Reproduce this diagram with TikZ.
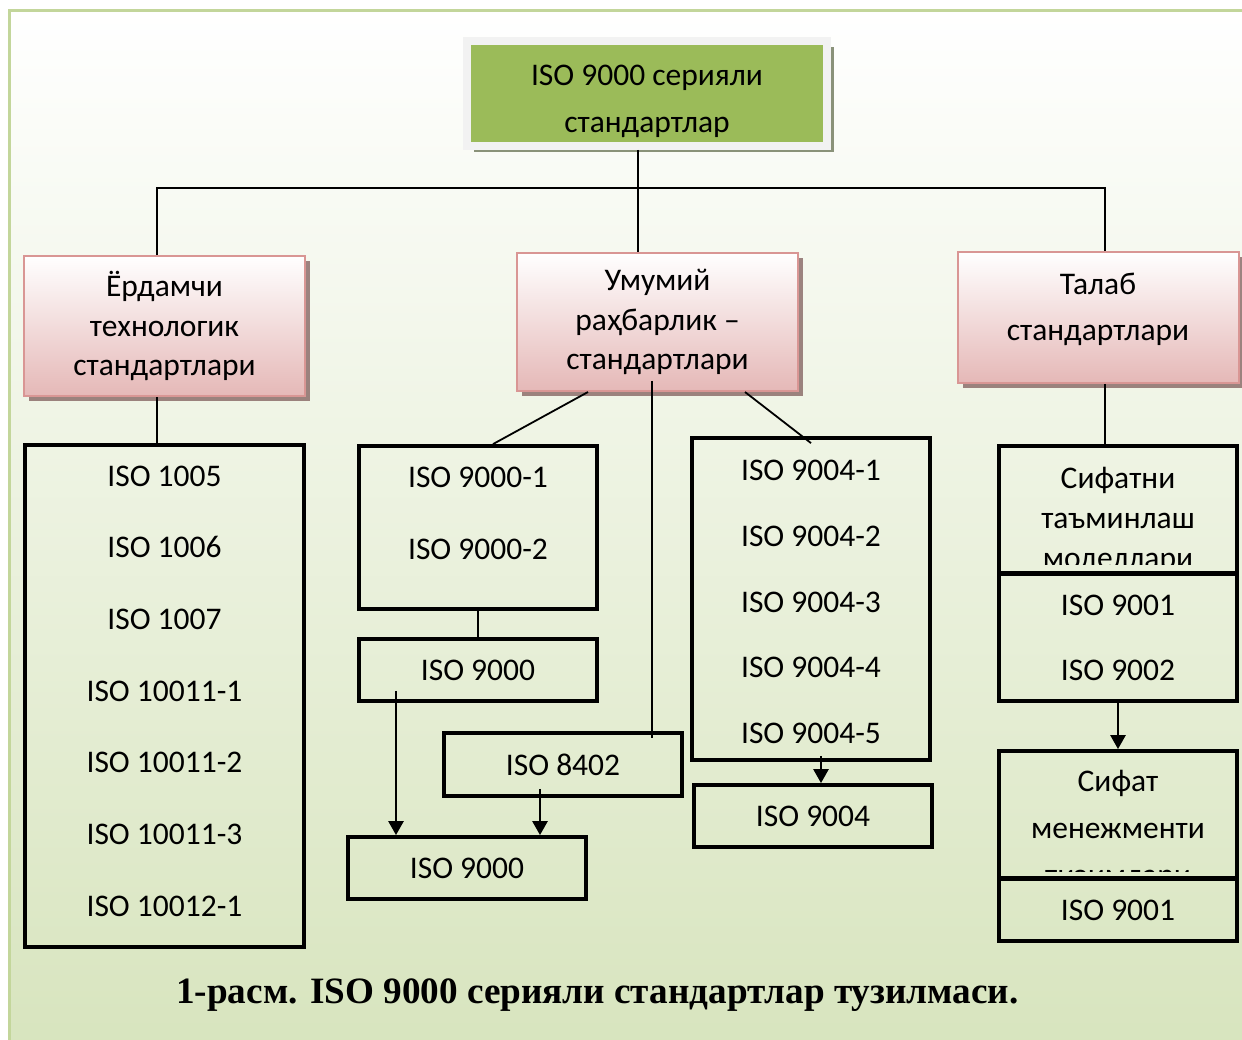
\documentclass[tikz,border=0pt]{standalone}
\usepackage{fontspec}
\setmainfont{Carlito}
\newfontfamily\capfont{Liberation Serif}
\usetikzlibrary{arrows.meta,shadows}
\definecolor{bggreen}{RGB}{215,228,189}
\definecolor{bgedge}{RGB}{195,214,155}
\definecolor{topgreen}{RGB}{155,187,89}
\definecolor{pinkedge}{RGB}{217,150,148}
\definecolor{pinkfill}{RGB}{229,184,183}

\begin{document}
\begin{tikzpicture}[
    x=1pt, y=-1pt,
    boxfont/.style={font=\fontsize{31.5}{#1}\selectfont},
    txt/.style={align=center, inner sep=0pt},
    isobox/.style={rectangle, draw=black, line width=3.8pt, minimum width=238pt, align=center, inner sep=0pt},
    groupbox/.style={rectangle, draw=pinkedge, line width=2pt, top color=white, bottom color=pinkfill, minimum width=281pt, align=center, inner sep=0pt, drop shadow={shadow xshift=5pt, shadow yshift=-5pt, fill=black!45!pinkedge, opacity=0.7}},
    link/.style={line width=1.8pt},
    arrow/.style={-{Triangle[length=14pt,width=15pt]}, line width=2.6pt}
]
\useasboundingbox (0,0) rectangle (1242,1040);

% Background
\begin{scope}
\clip (0,0) rectangle (1242,1040);
\shadedraw[top color=white, bottom color=bggreen, draw=bgedge, line width=2.7pt] (9.7,10.3) rectangle (1262,1062);
\end{scope}

% Top
\node[rectangle, draw=black!5, line width=8pt, fill=topgreen, minimum width=360pt, minimum height=105pt, drop shadow={shadow xshift=6.5pt, shadow yshift=-6.5pt, fill=black!40!topgreen!50!gray, opacity=0.8}] (series) at (647,93.5) {};
\begin{scope}
\clip ([xshift=4pt,yshift=5pt]series.south west) rectangle ([xshift=-4pt,yshift=-4pt]series.north east);
\node[txt, boxfont=47pt] (seriestxt) at (647,101.5) {ISO 9000 серияли\\стандартлар};
\end{scope}

% Groups
\node[groupbox, minimum height=140pt, boxfont=39.5pt] (aux) at (164.5,326) {Ёрдамчи\\технологик\\стандартлари};
\node[groupbox, minimum height=138pt, boxfont=39.5pt] (general) at (657.5,322) {Умумий\\раҳбарлик –\\стандартлари};
\node[groupbox, minimum height=131pt] (req) at (1098.5,317.5) {};
\node[txt, boxfont=46pt] (reqtxt) at (1098,309) {Талаб\\стандартлари};

% Lists
\node[isobox, minimum width=279.5pt, minimum height=502pt] (auxlist) at (164.5,696) {};
\node[txt, boxfont=71.7pt] (auxlisttxt) at (164.5,691) {ISO 1005\\ISO 1006\\ISO 1007\\ISO 10011-1\\ISO 10011-2\\ISO 10011-3\\ISO 10012-1};

\node[isobox, minimum height=163pt] (gen1) at (478,527.5) {};
\node[txt, boxfont=72pt] (gen1txt) at (478,513) {ISO 9000-1\\ISO 9000-2};
\node[isobox, minimum height=62pt, boxfont=40pt] (gen2) at (478,670) {ISO 9000};
\node[isobox, minimum height=63pt, boxfont=40pt] (vocab) at (563,764.5) {ISO 8402};
\node[isobox, minimum height=62pt, boxfont=40pt] (gen3) at (467,868) {ISO 9000};

\node[isobox, minimum height=322pt] (guide) at (811,599) {};
\node[txt, boxfont=65.7pt] (guidetxt) at (811,602) {ISO 9004-1\\ISO 9004-2\\ISO 9004-3\\ISO 9004-4\\ISO 9004-5};
\node[isobox, minimum height=62pt, boxfont=40pt] (guide2) at (813,816) {ISO 9004};

\node[isobox, minimum height=127pt] (assure) at (1118,509.5) {};
\node[isobox, minimum height=127.5pt, boxfont=65pt] (assurelist) at (1118,637.5) {ISO 9001\\ISO 9002};
\node[isobox, minimum height=127pt] (manage) at (1118,814.5) {};
\node[isobox, minimum height=62pt, boxfont=40pt] (managelist) at (1118,910) {ISO 9001};

\begin{scope}
\clip ([xshift=2pt,yshift=10pt]assure.south west) rectangle ([xshift=-2pt,yshift=-2pt]assure.north east);
\node[txt, boxfont=40pt] (assuretxt) at (1118,520) {Сифатни\\таъминлаш\\моделлари};
\end{scope}
\begin{scope}
\clip ([yshift=8pt]manage.south west) rectangle (manage.north east);
\node[txt, boxfont=47pt] (managetxt) at (1118,830) {Сифат\\менежменти\\тизимлари};
\end{scope}

% Connections
\coordinate (busl) at (157,188);
\coordinate (busm) at (638,188);
\coordinate (busr) at (1105,188);
\draw[link] (busm |- series.south) -- (busm |- general.north);
\draw[link] (busl |- aux.north) -- (busl) -- (busr) -- (busr |- req.north);
\draw[link] (busl |- aux.south) -- (busl |- auxlist.north);
\draw[link] ([xshift=-69.5pt]general.south) -- ([xshift=15pt]gen1.north);
\draw[link] ([xshift=87.5pt]general.south) -- ([yshift=-7pt]guide.north);
\draw[link] ([xshift=-5.5pt,yshift=11pt]general.south) -- ([xshift=89pt,yshift=-7pt]vocab.north);
\draw[link] (gen1.south) -- (gen2.north);
\draw[arrow] ([xshift=-82pt,yshift=12pt]gen2.south) -- ([xshift=-71pt]gen3.north);
\draw[arrow] ([xshift=-23pt,yshift=9pt]vocab.south) -- ([xshift=73pt]gen3.north);
\draw[arrow] ([xshift=10pt,yshift=6pt]guide.south) -- ([xshift=8pt]guide2.north);
\draw[link] (busr |- req.south) -- (busr |- assure.north);
\draw[arrow] (assurelist.south) -- (manage.north);

% Caption
\node[anchor=base, inner sep=0pt, font=\capfont\bfseries\fontsize{37.2}{44}\selectfont] (caption) at (597.5,1003) {1-расм. ISO 9000 серияли стандартлар тузилмаси.};

\end{tikzpicture}
\end{document}
